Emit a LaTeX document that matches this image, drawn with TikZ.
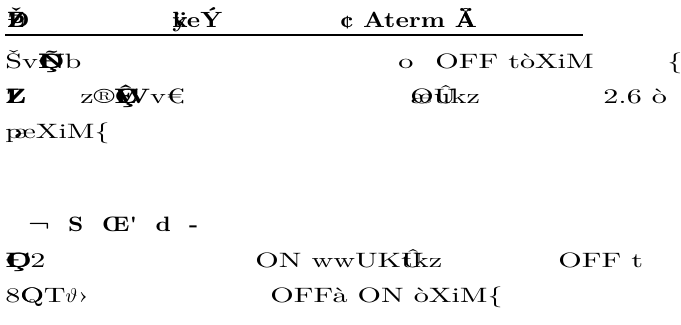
\documentclass[tikz,border=0pt]{standalone}
\usepackage{fontspec}
\setmainfont{Latin Modern Roman}[FakeStretch=1.45]
\newfontfamily\hdfont{Latin Modern Roman}[FakeStretch=1.15]
\newcommand\ovl[2]{\rlap{#1}#2}
\begin{document}
\begin{tikzpicture}[x=0.5pt,y=-0.5pt,font=\fontsize{10.4}{12}\selectfont]


\tikzset{txt/.style={anchor=base west,inner sep=0pt,},}
\tikzset{hd/.style={txt,font=\hdfont\fontsize{11}{13}\selectfont\bfseries},}
\tikzset{sec/.style={txt,font=\hdfont\fontsize{10.4}{12}\selectfont\bfseries},}

\useasboundingbox (0,0) rectangle (681,325);

	\draw
		(7,28) node[hd] (h0) {\ovl{Ž}{\ovl{Ð}{Þ}}}
		(172,28) node[hd] (h1) {\ovl{ÿ}{k}eÝ}
		(340,28) node[hd] (h2) {¢ Aterm \ovl{Å}{Ä}}
		(5,35) coordinate (rl)
		(583,35) coordinate (rr);
	\draw[line width=1pt](rl) -- (rr);

	\draw
		(5,69) node[txt] (a0) {Šv{\bfseries\ovl{Ñ}{\ovl{Ç}{Ð}}}b}
		(398,69) node[txt] (a1) {o}
		(435,69) node[txt] (a2) {OFF\ tòXiM}
		(667,69) node[txt] (a3) {\{}
		(5,104) node[txt] (b0) {\bfseries\ovl{Z}{L}}
		(80,104) node[txt] (b1) {z®{\bfseries\ovl{Ç}{\ovl{Ê}{W}}}v€}
		(410,104) node[txt] (b2) {\ovl{æ}{O}\ovl{Û}{u}kz}
		(603,104) node[txt] (b3) {2.6 ò}
		(5,139) node[txt] (c0) {p\kern-4pt æXiM\{};

	\draw
		(28,232) node[sec] (s0) {¬\ \ S\ \ Œ'\ \ d\ \ -}
		(5,268) node[txt] (d0) {{\bfseries\ovl{Ð}{Ç}}2}
		(255,268) node[txt] (d1) {ON wwUK\ovl{Û}{t}kz}
		(558,268) node[txt] (d2) {OFF t}
		(5,303) node[txt] (e0) {8\ovl{Q}{O}T$\vartheta$›}
		(270,303) node[txt] (e1) {OFFà ON òXiM\{};

\end{tikzpicture}
\end{document}
